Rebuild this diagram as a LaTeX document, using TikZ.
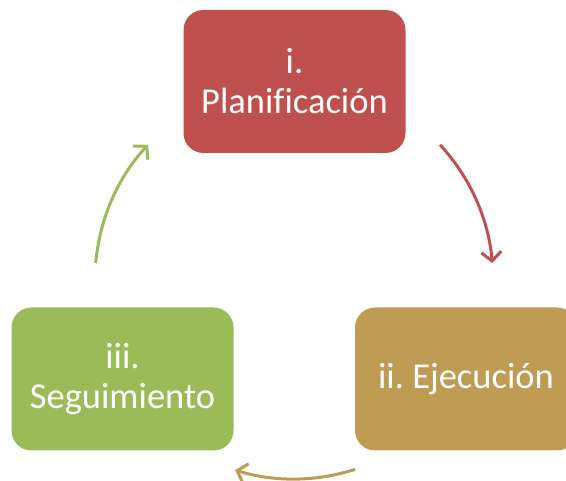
\documentclass[tikz,border=0pt]{standalone}
\usepackage{fontspec}
\setmainfont[Ligatures=NoCommon]{Carlito}
\usetikzlibrary{arrows.meta}
\definecolor{cred}{HTML}{C0504D}
\definecolor{cgold}{HTML}{BF9B53}
\definecolor{cgreen}{HTML}{9BBB59}
\frenchspacing
\begin{document}
\begin{tikzpicture}[x=1pt,y=1pt,
  box/.style={rounded corners=20pt, minimum width=222pt, minimum height=143pt,
    text=white, align=center, inner sep=0pt, font=\fontsize{36.5}{40}\selectfont\frenchspacing},
  cyc/.style={line width=3pt, -{Straight Barb[length=9pt,width=20pt,line width=3pt]}}]
\useasboundingbox (0,0) rectangle (566,481);
\clip (0,0) rectangle (566,481);
\node[box, fill=cred] (plan) at (294.5,399.5) {i.\\Planificación};
\node[box, fill=cgold] (ejec) at (466,102) {ii. Ejecución};
\node[box, fill=cgreen] (seg) at (122.5,102) {iii.\\Seguimiento};
\coordinate (c) at (294,201);
\draw[cyc, cred] (c) ++(42.8:199) arc[start angle=42.8, end angle=4.9, radius=199];
\draw[cyc, cgold] (c) ++(-72.1:199) arc[start angle=-72.1, end angle=-107.2, radius=199];
\draw[cyc, cgreen] (c) ++(175.1:199) arc[start angle=175.1, end angle=137.2, radius=199];
\end{tikzpicture}
\end{document}
